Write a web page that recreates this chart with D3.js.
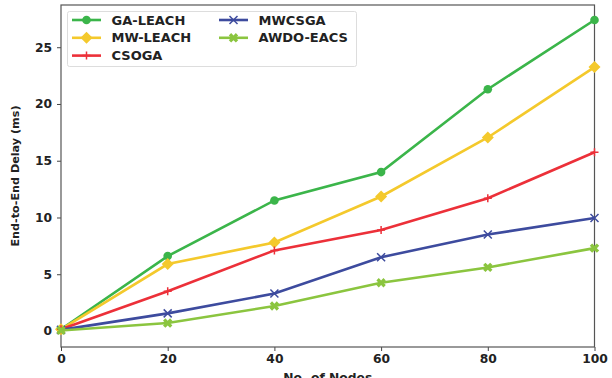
<!DOCTYPE html>
<html>
<head>
<meta charset="utf-8">
<script src="https://cdn.jsdelivr.net/npm/d3@7"></script>
<style>
body { margin: 0; background: #fff; }
text { font-family: "DejaVu Sans", sans-serif; font-weight: bold; fill: #222; }
</style>
</head>
<body>
<svg id="chart" width="612" height="378"></svg>
<script>
var nodes = [0, 20, 40, 60, 80, 100];
var gaLeach = [0.15, 6.6, 11.5, 14.0, 21.3, 27.4];
var mwLeach = [0.15, 5.9, 7.8, 11.85, 17.05, 23.25];
var csoga = [0.15, 3.5, 7.1, 8.9, 11.7, 15.75];
var mwcsga = [0.1, 1.55, 3.3, 6.5, 8.5, 9.95];
var awdoEacs = [0.05, 0.7, 2.2, 4.25, 5.6, 7.3];
var xTicks = [0, 20, 40, 60, 80, 100];
var yTicks = [0, 5, 10, 15, 20, 25];

var series = [
	{name: "GA-LEACH", values: gaLeach, color: "#3bb54a", marker: "circle"},
	{name: "MW-LEACH", values: mwLeach, color: "#f4c92c", marker: "diamond"},
	{name: "CSOGA", values: csoga, color: "#ec3039", marker: "plus"},
	{name: "MWCSGA", values: mwcsga, color: "#3d4b9e", marker: "x"},
	{name: "AWDO-EACS", values: awdoEacs, color: "#8bc53f", marker: "X"}
];

var svg = d3.select("#chart");
var plotL = 61, plotR = 594.5, plotT = 5, plotB = 347;

var x = d3.scaleLinear().domain([0, 100]).range([plotL, plotR]);
var y = d3.scaleLinear().domain([-1.41, 28.72]).range([plotB, plotT]);

// axes
svg.append("g")
	.attr("transform", "translate(0," + plotB + ")")
	.call(d3.axisBottom(x).tickValues(xTicks).tickSize(4).tickPadding(3.5))
	.call(function(g) {
		g.select(".domain").remove();
		g.selectAll("line").attr("stroke", "#444");
		g.selectAll("text").attr("font-size", 12.3).attr("font-family", "DejaVu Sans").attr("font-weight", "bold").attr("fill", "#222");
	});
svg.append("g")
	.attr("transform", "translate(" + plotL + ",0)")
	.call(d3.axisLeft(y).tickValues(yTicks).tickSize(4).tickPadding(5))
	.call(function(g) {
		g.select(".domain").remove();
		g.selectAll("line").attr("stroke", "#444");
		g.selectAll("text").attr("font-size", 12.3).attr("font-family", "DejaVu Sans").attr("font-weight", "bold").attr("fill", "#222");
	});

// frame
svg.append("rect")
	.attr("x", plotL).attr("y", plotT)
	.attr("width", plotR - plotL).attr("height", plotB - plotT)
	.attr("fill", "none").attr("stroke", "#555").attr("stroke-width", 1.2);

svg.append("text")
	.attr("transform", "translate(19," + ((plotT + plotB) / 2) + ") rotate(-90)")
	.attr("text-anchor", "middle")
	.attr("font-size", 11.2)
	.text("End-to-End Delay (ms)");
svg.append("text")
	.attr("x", (plotL + plotR) / 2).attr("y", 382)
	.attr("text-anchor", "middle")
	.attr("font-size", 12.3)
	.text("No. of Nodes");

function drawMarker(g, type, color, cx, cy) {
	if (type == "circle") {
		g.append("circle").attr("cx", cx).attr("cy", cy).attr("r", 4.3).attr("fill", color);
	} else if (type == "diamond") {
		g.append("path").attr("d", "M" + cx + "," + (cy - 6) + "L" + (cx + 6) + "," + cy + "L" + cx + "," + (cy + 6) + "L" + (cx - 6) + "," + cy + "Z").attr("fill", color);
	} else if (type == "plus") {
		g.append("path").attr("d", "M" + (cx - 4) + "," + cy + "H" + (cx + 4) + "M" + cx + "," + (cy - 4) + "V" + (cy + 4))
			.attr("stroke", color).attr("stroke-width", 1.5);
	} else if (type == "x") {
		g.append("path").attr("d", "M" + (cx - 4) + "," + (cy - 4) + "L" + (cx + 4) + "," + (cy + 4) + "M" + (cx - 4) + "," + (cy + 4) + "L" + (cx + 4) + "," + (cy - 4))
			.attr("stroke", color).attr("stroke-width", 1.5);
	} else {
		g.append("path").attr("d", d3.symbol().type(d3.symbolCross).size(55)()).attr("transform", "translate(" + cx + "," + cy + ") rotate(45)").attr("fill", color);
	}
}

var line = d3.line()
	.x(function(d, i) { return x(nodes[i]); })
	.y(function(d) { return y(d); });

series.forEach(function(s) {
	var g = svg.append("g");
	g.append("path")
		.attr("d", line(s.values))
		.attr("fill", "none")
		.attr("stroke", s.color)
		.attr("stroke-width", 2.6);
	s.values.forEach(function(v, i) {
		drawMarker(g, s.marker, s.color, x(nodes[i]), y(v));
	});
});

// legend
var lg = svg.append("g");
lg.append("rect")
	.attr("x", 67.5).attr("y", 11.5).attr("width", 289).attr("height", 55).attr("rx", 2)
	.attr("fill", "#fff").attr("fill-opacity", 0.8).attr("stroke", "#ddd");
series.forEach(function(s, i) {
	var col = i < 3 ? 0 : 1, row = i < 3 ? i : i - 3;
	var lx = 72 + col * 147, ly = 20 + row * 17.8;
	lg.append("line").attr("x1", lx).attr("x2", lx + 29).attr("y1", ly).attr("y2", ly)
		.attr("stroke", s.color).attr("stroke-width", 2.6);
	drawMarker(lg, s.marker, s.color, lx + 14.5, ly);
	lg.append("text").attr("x", lx + 39.5).attr("y", ly + 4.6).attr("font-size", 13).text(s.name);
});
</script>
</body>
</html>
